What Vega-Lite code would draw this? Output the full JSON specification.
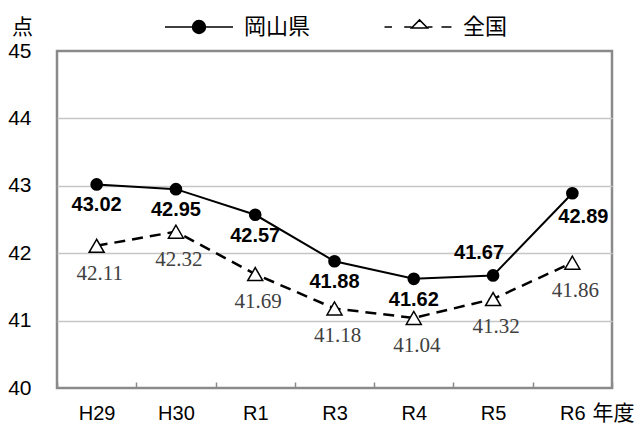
{
  "$schema": "https://vega.github.io/schema/vega-lite/v6.json",
  "width": 555,
  "height": 337,
  "autosize": {"type": "none"},
  "padding": {"left": 57, "top": 51, "right": 31, "bottom": 35},
  "background": "white",
  "config": {"view": {"stroke": "#8a8a8a", "strokeWidth": 2.5}},
  "data": {
    "values": [
      {"year": "H29", "series": "岡山県", "value": 43.02},
      {"year": "H30", "series": "岡山県", "value": 42.95},
      {"year": "R1", "series": "岡山県", "value": 42.57},
      {"year": "R3", "series": "岡山県", "value": 41.88},
      {"year": "R4", "series": "岡山県", "value": 41.62},
      {"year": "R5", "series": "岡山県", "value": 41.67},
      {"year": "R6", "series": "岡山県", "value": 42.89},
      {"year": "H29", "series": "全国", "value": 42.11},
      {"year": "H30", "series": "全国", "value": 42.32},
      {"year": "R1", "series": "全国", "value": 41.69},
      {"year": "R3", "series": "全国", "value": 41.18},
      {"year": "R4", "series": "全国", "value": 41.04},
      {"year": "R5", "series": "全国", "value": 41.32},
      {"year": "R6", "series": "全国", "value": 41.86}
    ]
  },
  "encoding": {
    "x": {
      "field": "year", "type": "ordinal", "sort": null,
      "scale": {"type": "band", "paddingInner": 0, "paddingOuter": 0},
      "axis": {
        "title": "年度", "titleFont": "Noto Sans CJK JP", "titleFontSize": 21, "titleFontWeight": "normal",
        "titleColor": "black", "titleX": 535, "titleY": 25, "titleAlign": "left", "titleBaseline": "middle", "titleAngle": 0,
        "labelAngle": 0, "labelFont": "Liberation Sans", "labelFontSize": 20, "labelColor": "black", "labelPadding": 21,
        "tickBand": "extent", "tickSize": -6, "tickColor": "#8a8a8a", "tickWidth": 1.5,
        "domain": false, "grid": false
      }
    },
    "y": {
      "field": "value", "type": "quantitative",
      "scale": {"domain": [40, 45], "nice": false, "zero": false},
      "axis": {
        "title": "点", "titleAngle": 0, "titleX": -35, "titleY": -24, "titleAlign": "center", "titleBaseline": "middle",
        "titleFont": "Noto Sans CJK JP", "titleFontSize": 21, "titleFontWeight": "normal", "titleColor": "black",
        "values": [40, 41, 42, 43, 44, 45],
        "labelFont": "Liberation Sans", "labelFontSize": 21, "labelColor": "black", "labelPadding": 26,
        "ticks": false, "tickSize": 0, "domain": false,
        "grid": true, "gridColor": "#c6c6c6", "gridWidth": 1.5,
        "gridOpacity": {"condition": {"test": "datum.value == 40 || datum.value == 45", "value": 0}, "value": 1}
      }
    }
  },
  "layer": [
    {
      "transform": [{"filter": "datum.series == '岡山県'"}],
      "mark": {"type": "line", "color": "black", "strokeWidth": 2}
    },
    {
      "transform": [{"filter": "datum.series == '全国'"}],
      "mark": {"type": "line", "color": "black", "strokeWidth": 2.5, "strokeDash": [11, 7]}
    },
    {
      "transform": [{"filter": "datum.series == '岡山県'"}],
      "mark": {"type": "point", "shape": "circle", "filled": true, "color": "black", "size": 160, "opacity": 1}
    },
    {
      "transform": [{"filter": "datum.series == '全国'"}],
      "mark": {"type": "point", "shape": "triangle-up", "filled": true, "fill": "white", "stroke": "black", "strokeWidth": 1.5, "size": 225, "opacity": 1}
    },
    {
      "transform": [{"filter": "datum.series == '岡山県' && datum.year != 'R5' && datum.year != 'R6'"}],
      "mark": {"type": "text", "font": "Liberation Sans", "fontSize": 20, "fontWeight": "bold", "color": "black", "dy": 21, "align": "center", "baseline": "middle"},
      "encoding": {"text": {"field": "value", "type": "quantitative", "format": ".2f"}}
    },
    {
      "transform": [{"filter": "datum.series == '岡山県' && datum.year == 'R5'"}],
      "mark": {"type": "text", "font": "Liberation Sans", "fontSize": 20, "fontWeight": "bold", "color": "black", "dy": -22, "dx": -14, "align": "center", "baseline": "middle"},
      "encoding": {"text": {"field": "value", "type": "quantitative", "format": ".2f"}}
    },
    {
      "transform": [{"filter": "datum.series == '岡山県' && datum.year == 'R6'"}],
      "mark": {"type": "text", "font": "Liberation Sans", "fontSize": 20, "fontWeight": "bold", "color": "black", "dy": 24, "dx": 11, "align": "center", "baseline": "middle"},
      "encoding": {"text": {"field": "value", "type": "quantitative", "format": ".2f"}}
    },
    {
      "transform": [{"filter": "datum.series == '全国'"}],
      "mark": {"type": "text", "font": "Liberation Serif", "fontSize": 21, "color": "#404040", "dy": 28, "dx": 3, "align": "center", "baseline": "middle"},
      "encoding": {"text": {"field": "value", "type": "quantitative", "format": ".2f"}}
    },
    {
      "transform": [{"filter": "false"}],
      "mark": {"type": "point", "filled": true, "stroke": "black", "strokeWidth": 1.5, "opacity": 1},
      "encoding": {
        "shape": {
          "field": "series", "type": "nominal",
          "scale": {"domain": ["岡山県", "全国"], "range": [
            "M-1,0H1M0.19,0A0.19,0.19,0,1,1,-0.19,0A0.19,0.19,0,1,1,0.19,0Z",
            "M-0.985,0H-0.765M-0.406,0H-0.19M0.28,0H0.426M0.69,0H0.985M-0.19,0.03L0.045,-0.21L0.28,0.03Z"
          ]},
          "legend": {"title": null, "orient": "none", "legendX": 107, "legendY": -59, "direction": "horizontal",
            "symbolSize": 4624, "symbolStrokeColor": "black", "symbolStrokeWidth": 1.5, "symbolOpacity": 1,
            "labelFont": "Noto Sans CJK JP", "labelFontSize": 22, "labelColor": "black", "labelOffset": 10,
            "columnPadding": 70, "padding": 0, "rowPadding": 0}
        },
        "fill": {
          "field": "series", "type": "nominal",
          "scale": {"domain": ["岡山県", "全国"], "range": ["black", "white"]},
          "legend": {"title": null, "orient": "none", "legendX": 107, "legendY": -59, "direction": "horizontal",
            "symbolSize": 4624, "symbolStrokeColor": "black", "symbolStrokeWidth": 1.5, "symbolOpacity": 1,
            "labelFont": "Noto Sans CJK JP", "labelFontSize": 22, "labelColor": "black", "labelOffset": 10,
            "columnPadding": 70, "padding": 0, "rowPadding": 0}
        },
        "stroke": {
          "field": "series", "type": "nominal",
          "scale": {"domain": ["岡山県", "全国"], "range": ["black", "black"]},
          "legend": {"title": null, "orient": "none", "legendX": 107, "legendY": -59, "direction": "horizontal",
            "symbolSize": 4624, "symbolStrokeColor": "black", "symbolStrokeWidth": 1.5, "symbolOpacity": 1,
            "labelFont": "Noto Sans CJK JP", "labelFontSize": 22, "labelColor": "black", "labelOffset": 10,
            "columnPadding": 70, "padding": 0, "rowPadding": 0}
        }
      }
    }
  ]
}
